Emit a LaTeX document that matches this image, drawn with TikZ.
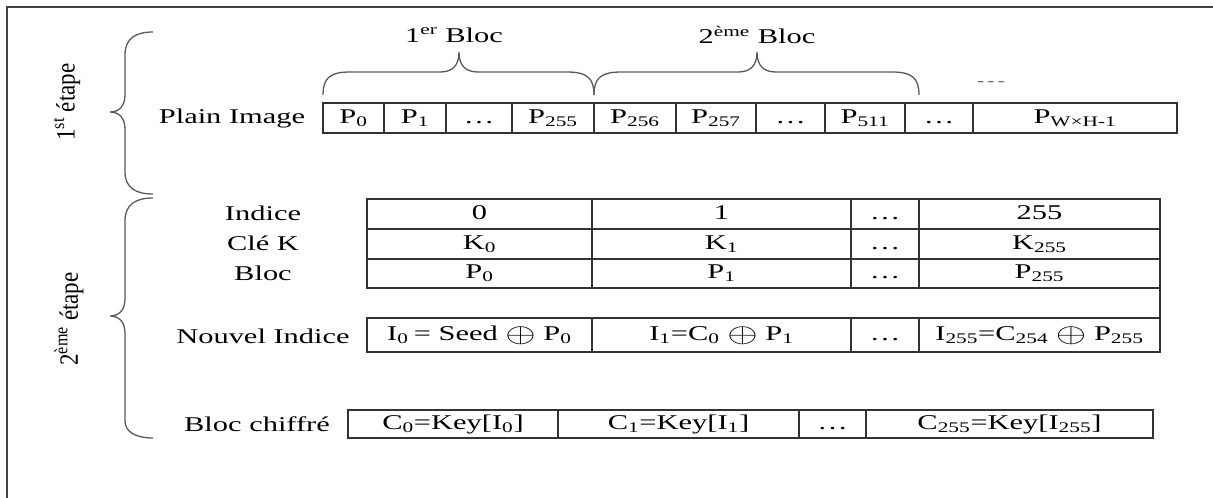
\documentclass[tikz,border=0pt]{standalone}
\usepackage{fontspec}
\setmainfont{Liberation Serif}
\usepackage{graphicx}
% horizontally widened text, as set in the figure
\newcommand{\sx}[1]{\scalebox{1.45}[1]{#1}}
% large circled plus used in the new-index formulas
\newcommand{\bigxor}{\raisebox{-0.1em}{\scalebox{1.3}[1.3]{$\oplus$}}}
\begin{document}
\begin{tikzpicture}[x=1pt,y=-1pt,
  txt/.style={inner sep=0pt, font=\fontsize{21}{25}\selectfont},
  side/.style={inner sep=0pt, rotate=90, font=\fontsize{23}{27}\selectfont},
  cell/.style={draw=black!80, line width=1.1pt, inner sep=0pt, outer sep=0pt,
    anchor=north west, font=\fontsize{21}{25}\selectfont,
    text height=14pt, text depth=4pt},
  brace/.style={draw=black!65, line width=1.3pt},
  frameline/.style={draw=black!75, line width=1.6pt}]
\useasboundingbox (0,0) rectangle (1213,498);

% outer frame (top and left edges)
\draw[frameline] (7,498) -- (7,7) -- (1213,7);

% stage braces and labels
\draw[brace] (153,32) .. controls (136,32) and (125,38) .. (125,55) -- (125,95)
  .. controls (125,106) and (119,112) .. (110,112)
  .. controls (119,112) and (125,118) .. (125,129) -- (125,172)
  .. controls (125,188) and (136,194) .. (153,194);
\draw[brace] (153,198) .. controls (136,198) and (125,204) .. (125,221) -- (125,299)
  .. controls (125,310) and (119,316) .. (110,316)
  .. controls (119,316) and (125,322) .. (125,333) -- (125,421)
  .. controls (125,432) and (136,438) .. (153,438);
\node[side] (etape1) at (67,102) {\scalebox{1}[1.15]{1\textsuperscript{st} étape}};
\node[side] (etape2) at (69,319) {\scalebox{1}[1.15]{2\textsuperscript{ème} étape}};

% block braces above the plain image
\draw[brace] (323,95) .. controls (323,78) and (330,72) .. (350,72) -- (440,72)
  .. controls (452,72) and (459,66) .. (459,52)
  .. controls (459,66) and (466,72) .. (478,72) -- (567,72)
  .. controls (587,72) and (594,78) .. (594,95);
\draw[brace] (594,95) .. controls (594,78) and (601,72) .. (621,72) -- (738,72)
  .. controls (750,72) and (757,66) .. (757,52)
  .. controls (757,66) and (764,72) .. (776,72) -- (892,72)
  .. controls (912,72) and (919,78) .. (919,95);
\node[txt] (bloc1) at (454,35) {\sx{1\textsuperscript{er} Bloc}};
\node[txt] (bloc2) at (757,35) {\sx{2\textsuperscript{ème} Bloc}};
\node[txt, text=black!70] (more) at (991,84) {\sx{\fontsize{14}{16}\selectfont -\,-\,-}};

% plain image row
\node[txt] (plain) at (232,118) {\sx{Plain Image}};
\node[cell, minimum width=61pt, minimum height=30pt] (p0) at (323,103) {\sx{P\textsubscript{0}}};
\node[cell, minimum width=62pt, minimum height=30pt] (p1) at (384,103) {\sx{P\textsubscript{1}}};
\node[cell, minimum width=66pt, minimum height=30pt] (pd1) at (446,103) {\sx{\dots}};
\node[cell, minimum width=82pt, minimum height=30pt] (p255) at (512,103) {\sx{P\textsubscript{255}}};
\node[cell, minimum width=82pt, minimum height=30pt] (p256) at (594,103) {\sx{P\textsubscript{256}}};
\node[cell, minimum width=80pt, minimum height=30pt] (p257) at (676,103) {\sx{P\textsubscript{257}}};
\node[cell, minimum width=69pt, minimum height=30pt] (pd2) at (756,103) {\sx{\dots}};
\node[cell, minimum width=80pt, minimum height=30pt] (p511) at (825,103) {\sx{P\textsubscript{511}}};
\node[cell, minimum width=68pt, minimum height=30pt] (pd3) at (905,103) {\sx{\dots}};
\node[cell, minimum width=204pt, minimum height=30pt] (pwh) at (973,103) {\sx{P\textsubscript{W×H-1}}};

% key table: index, key, block
\node[txt] (lind) at (263,213) {\sx{Indice}};
\node[txt] (lkey) at (263,243) {\sx{Clé K}};
\node[txt] (lblc) at (263,273) {\sx{Bloc}};
\node[cell, minimum width=225pt, minimum height=30pt] (i0) at (367,199) {\sx{0}};
\node[cell, minimum width=259pt, minimum height=30pt] (i1) at (592,199) {\sx{1}};
\node[cell, minimum width=68pt, minimum height=30pt] (id) at (851,199) {\sx{\dots}};
\node[cell, minimum width=241pt, minimum height=30pt] (i255) at (919,199) {\sx{255}};
\node[cell, minimum width=225pt, minimum height=30pt] (k0) at (367,229) {\sx{K\textsubscript{0}}};
\node[cell, minimum width=259pt, minimum height=30pt] (k1) at (592,229) {\sx{K\textsubscript{1}}};
\node[cell, minimum width=68pt, minimum height=30pt] (kd) at (851,229) {\sx{\dots}};
\node[cell, minimum width=241pt, minimum height=30pt] (k255) at (919,229) {\sx{K\textsubscript{255}}};
\node[cell, minimum width=225pt, minimum height=29pt] (b0) at (367,259) {\sx{P\textsubscript{0}}};
\node[cell, minimum width=259pt, minimum height=29pt] (b1) at (592,259) {\sx{P\textsubscript{1}}};
\node[cell, minimum width=68pt, minimum height=29pt] (bd) at (851,259) {\sx{\dots}};
\node[cell, minimum width=241pt, minimum height=29pt] (b255) at (919,259) {\sx{P\textsubscript{255}}};

% new index row
\node[txt] (lnew) at (263,336) {\sx{Nouvel Indice}};
\node[cell, minimum width=225pt, minimum height=34pt] (n0) at (367,318)
  {\sx{I\textsubscript{0}\,= Seed \bigxor{} P\textsubscript{0}}};
\node[cell, minimum width=259pt, minimum height=34pt] (n1) at (592,318)
  {\sx{I\textsubscript{1}=C\textsubscript{0} \bigxor{} P\textsubscript{1}}};
\node[cell, minimum width=68pt, minimum height=34pt] (nd) at (851,318) {\sx{\dots}};
\node[cell, minimum width=241pt, minimum height=34pt] (n255) at (919,318)
  {\sx{I\textsubscript{255}=C\textsubscript{254} \bigxor{} P\textsubscript{255}}};
\draw[draw=black!80, line width=1.1pt] (b255.south east) -- (n255.north east);

% ciphered block row
\node[txt] (lciph) at (257,424) {\sx{Bloc chiffré}};
\node[cell, minimum width=210pt, minimum height=28pt] (c0) at (348,410)
  {\sx{C\textsubscript{0}=Key[I\textsubscript{0}]}};
\node[cell, minimum width=241pt, minimum height=28pt] (c1) at (558,410)
  {\sx{C\textsubscript{1}=Key[I\textsubscript{1}]}};
\node[cell, minimum width=67pt, minimum height=28pt] (cd) at (799,410) {\sx{\dots}};
\node[cell, minimum width=287pt, minimum height=28pt] (c255) at (866,410)
  {\sx{C\textsubscript{255}=Key[I\textsubscript{255}]}};
\end{tikzpicture}
\end{document}
